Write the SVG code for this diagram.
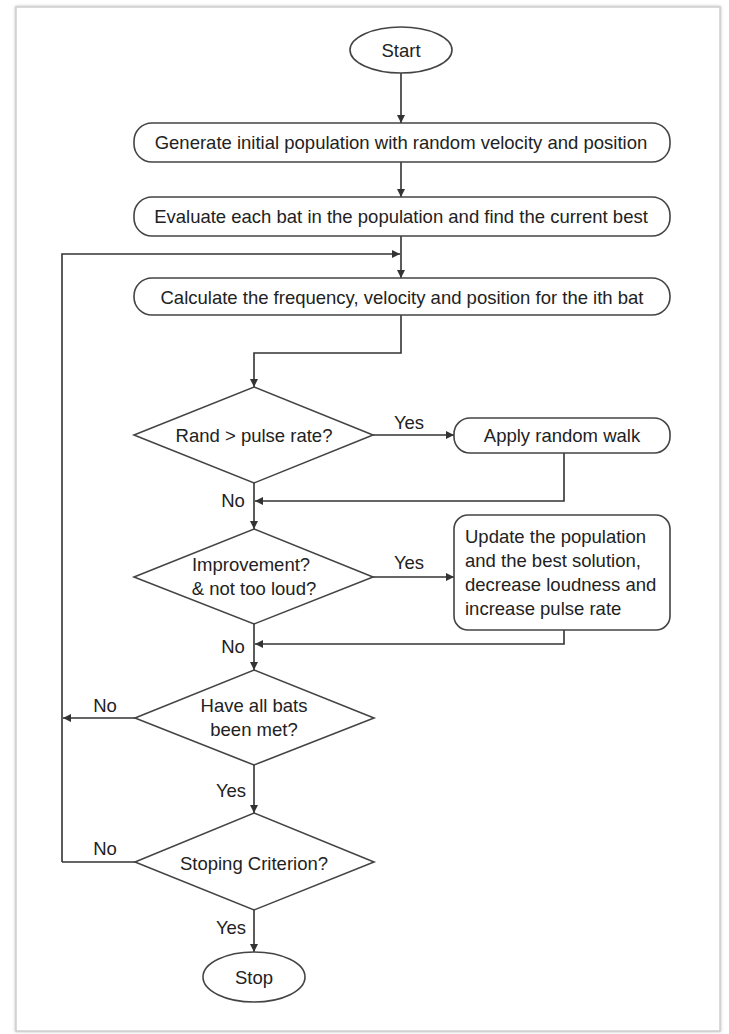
<svg xmlns="http://www.w3.org/2000/svg" width="729" height="1034" viewBox="0 0 729 1034">
<style>
.shape{fill:#fff;stroke:#444;stroke-width:1.6}
.conn{fill:none;stroke:#333;stroke-width:1.6}
.t{font-family:"Liberation Sans",Arial,sans-serif;font-size:18.5px;fill:#222;text-anchor:middle;dominant-baseline:central}
.tl{font-family:"Liberation Sans",Arial,sans-serif;font-size:18.5px;fill:#222;text-anchor:start;dominant-baseline:central}
</style>
<defs>
<marker id="arr" viewBox="0 0 10 10" refX="10" refY="5" markerWidth="8" markerHeight="8" markerUnits="userSpaceOnUse" orient="auto">
<path d="M0,0 L10,5 L0,10 z" fill="#333"/>
</marker>
<filter id="sh" x="-5%" y="-5%" width="110%" height="110%">
<feDropShadow dx="0" dy="0" stdDeviation="1.5" flood-color="#999" flood-opacity="0.7"/>
</filter>
</defs>
<rect width="729" height="1034" fill="#fff"/>
<rect id="frame" x="16" y="7" width="704" height="1024" fill="#fff" stroke="#cfcfcf" stroke-width="1.5" filter="url(#sh)"/>

<g id="connectors">
<line class="conn" x1="401" y1="73" x2="401" y2="123" marker-end="url(#arr)"/>
<line class="conn" x1="401" y1="162" x2="401" y2="197" marker-end="url(#arr)"/>
<line class="conn" x1="401" y1="236" x2="401" y2="278" marker-end="url(#arr)"/>
<polyline class="conn" points="62,862 62,254 400,254" marker-end="url(#arr)"/>
<polyline class="conn" points="401,315 401,353 254,353 254,387" marker-end="url(#arr)"/>
<line class="conn" x1="373" y1="435" x2="454" y2="435" marker-end="url(#arr)"/>
<polyline class="conn" points="564,453 564,501 255,501" marker-end="url(#arr)"/>
<line class="conn" x1="254" y1="483" x2="254" y2="529" marker-end="url(#arr)"/>
<line class="conn" x1="373" y1="577" x2="454" y2="577" marker-end="url(#arr)"/>
<polyline class="conn" points="564,630 564,644 255,644" marker-end="url(#arr)"/>
<line class="conn" x1="254" y1="624" x2="254" y2="670" marker-end="url(#arr)"/>
<line class="conn" x1="135" y1="718" x2="63" y2="718" marker-end="url(#arr)"/>
<line class="conn" x1="254" y1="765" x2="254" y2="813" marker-end="url(#arr)"/>
<line class="conn" x1="135" y1="862" x2="62" y2="862"/>
<line class="conn" x1="254" y1="910" x2="254" y2="952" marker-end="url(#arr)"/>
</g>

<g id="labels">
<text class="t" x="409" y="422">Yes</text>
<text class="t" x="233" y="500">No</text>
<text class="t" x="409" y="562">Yes</text>
<text class="t" x="233" y="646">No</text>
<text class="t" x="105" y="705">No</text>
<text class="t" x="231" y="790">Yes</text>
<text class="t" x="105" y="848">No</text>
<text class="t" x="231" y="927">Yes</text>
</g>

<g id="start">
<ellipse class="shape" cx="401" cy="50" rx="51" ry="23"/>
<text class="t" x="401" y="50">Start</text>
</g>
<g id="generate">
<rect class="shape" x="134" y="123" width="536" height="39" rx="18" ry="18"/>
<text class="t" x="401" y="142">Generate initial population with random velocity and position</text>
</g>
<g id="evaluate">
<rect class="shape" x="134" y="197" width="536" height="39" rx="18" ry="18"/>
<text class="t" x="401" y="216">Evaluate each bat in the population and find the current best</text>
</g>
<g id="calculate">
<rect class="shape" x="134" y="278" width="536" height="37" rx="18" ry="18"/>
<text class="t" x="402" y="297">Calculate the frequency, velocity and position for the ith bat</text>
</g>
<g id="rand">
<polygon class="shape" points="254,387 373,435 254,483 134,435"/>
<text class="t" x="254" y="435">Rand &gt; pulse rate?</text>
</g>
<g id="walk">
<rect class="shape" x="454" y="418" width="216" height="35" rx="16" ry="16"/>
<text class="t" x="562" y="435">Apply random walk</text>
</g>
<g id="improve">
<polygon class="shape" points="254,529 373,577 254,624 134,577"/>
<text class="t" x="251" y="564">Improvement?</text>
<text class="t" x="254" y="588">&amp; not too loud?</text>
</g>
<g id="update">
<rect class="shape" x="454" y="515" width="216" height="115" rx="14" ry="14"/>
<text class="tl" x="465" y="536">Update the population</text>
<text class="tl" x="465" y="560">and the best solution,</text>
<text class="tl" x="465" y="584">decrease loudness and</text>
<text class="tl" x="465" y="608">increase pulse rate</text>
</g>
<g id="allbats">
<polygon class="shape" points="254,670 374,718 254,765 135,718"/>
<text class="t" x="254" y="705">Have all bats</text>
<text class="t" x="254" y="729">been met?</text>
</g>
<g id="stopping">
<polygon class="shape" points="254,813 374,862 254,910 135,862"/>
<text class="t" x="254" y="863">Stoping Criterion?</text>
</g>
<g id="stop">
<ellipse class="shape" cx="254" cy="977" rx="51" ry="25"/>
<text class="t" x="254" y="977">Stop</text>
</g>
</svg>
